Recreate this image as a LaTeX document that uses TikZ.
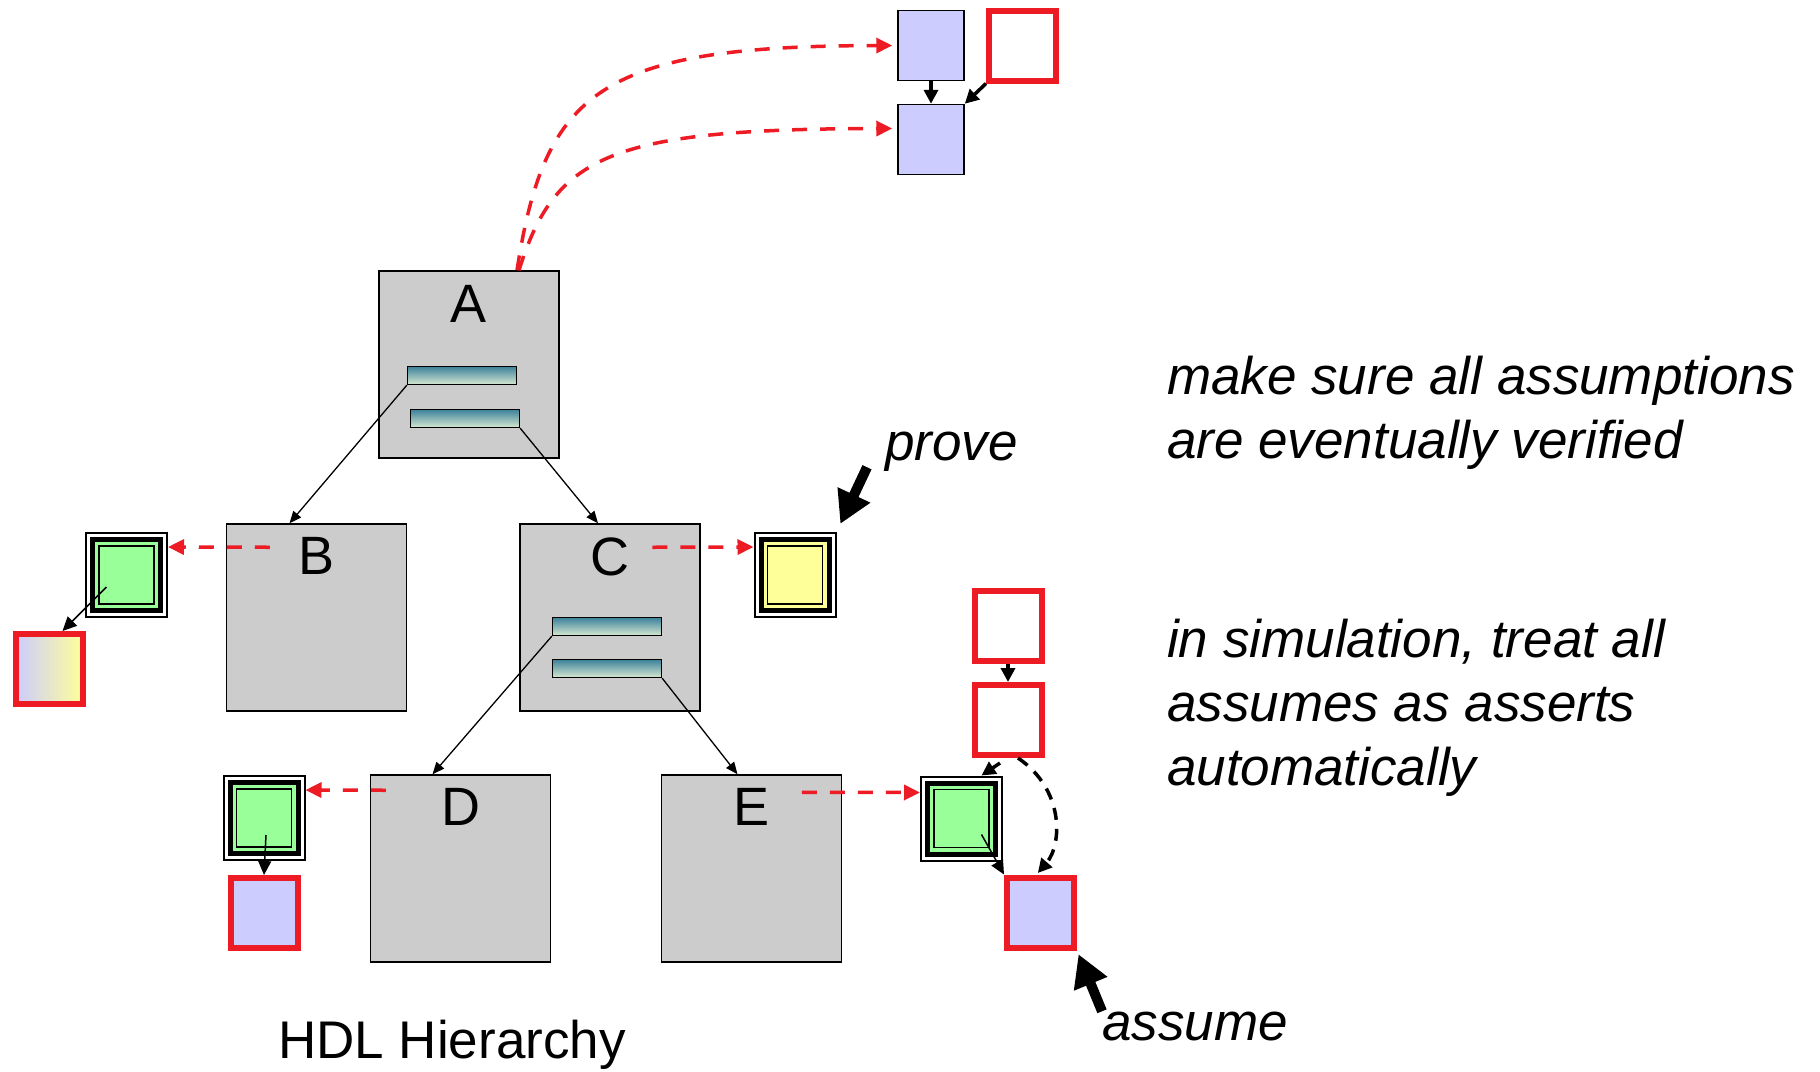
\documentclass[tikz,border=0pt]{standalone}
\usepackage{fontspec}
\setmainfont{Liberation Sans}
\usetikzlibrary{arrows.meta, positioning, calc}

\definecolor{hdlred}{HTML}{ED1C24}
\definecolor{modgray}{HTML}{CCCCCC}
\definecolor{lilac}{HTML}{CCCCFF}
\definecolor{propgreen}{HTML}{99FF99}
\definecolor{propyellow}{HTML}{FFFF99}
\definecolor{barteal}{HTML}{3D8199}
\definecolor{barpale}{HTML}{D6E8D2}

\begin{document}
\begin{tikzpicture}[x=1pt, y=-1pt,
        module/.style={draw, line width=1.5pt, fill=modgray, minimum width=180pt, minimum height=187pt, inner sep=0pt},
        modlabel/.style={inner sep=0pt, font=\fontsize{54}{60}\selectfont},
        instbar/.style={draw, line width=1.3pt, top color=barteal, bottom color=barpale, minimum width=109pt, minimum height=18pt, inner sep=0pt},
        propbox/.style={draw, line width=2pt, fill=white, minimum width=81pt, minimum height=84pt, inner sep=0pt,
            path picture={
                \fill[black] ([shift={(4pt,-4pt)}]path picture bounding box.north west) rectangle ([shift={(-4pt,4pt)}]path picture bounding box.south east);
                \fill[#1] ([shift={(9pt,-9pt)}]path picture bounding box.north west) rectangle ([shift={(-9pt,9pt)}]path picture bounding box.south east);
                \draw[line width=1.7pt, fill=#1] ([shift={(13pt,-13pt)}]path picture bounding box.north west) rectangle ([shift={(-13pt,13pt)}]path picture bounding box.south east);
            }},
        plainbox/.style={draw, line width=1.5pt, fill=lilac, minimum width=66pt, minimum height=70pt, inner sep=0pt},
        redbox/.style={draw=hdlred, line width=6pt, minimum width=67pt, minimum height=70pt, inner sep=0pt},
        note/.style={inner sep=0pt, align=left, font=\fontsize{53}{64}\selectfont\itshape},
        treeedge/.style={line width=1.3pt, -{Triangle[length=12pt,width=10pt]}},
        propedge/.style={hdlred, line width=3.5pt, dash pattern=on 15pt off 13pt, -{Triangle[length=16pt,width=15pt]}},
        linkedge/.style={line width=3.5pt, -{Triangle[length=14pt,width=14pt]}},
        thinedge/.style={line width=1.5pt, -{Triangle[length=14pt,width=13pt]}},
        bigarrow/.style={line width=10pt, -{Triangle[length=32pt,width=34pt]}}
    ]
        \useasboundingbox (0,0) rectangle (1820,1071);

        % HDL modules
        \node[module] (A) at (469,364.5) {};
        \node[module] (B) at (316.5,617.5) {};
        \node[module] (C) at (610,617.5) {};
        \node[module] (D) at (460.5,868.5) {};
        \node[module] (E) at (751.5,868.5) {};
        \node[modlabel, below=15pt of A.north] (Alab) {A};
        \node[modlabel, below=14pt of B.north] (Blab) {B};
        \node[modlabel, below=14pt of C.north] (Clab) {C};
        \node[modlabel, below=14pt of D.north] (Dlab) {D};
        \node[modlabel, below=14pt of E.north] (Elab) {E};

        % instances
        \node[instbar] (a1) at (462,375.5) {};
        \node[instbar] (a2) at (465,418.5) {};
        \node[instbar] (c1) at (607,626.5) {};
        \node[instbar] (c2) at (607,668.5) {};

        \draw[treeedge] (a1.south west) -- ($(B.north)+(-27,0)$);
        \draw[treeedge] (a2.south east) -- ($(C.north)+(-12,0)$);
        \draw[treeedge] (c1.south west) -- ($(D.north)+(-28,0)$);
        \draw[treeedge] (c2.south east) -- ($(E.north)+(-14,0)$);

        % properties
        \node[plainbox] (b1) at (931,45.5) {};
        \node[plainbox, below=22.5pt of b1] (b2) {};
        \node[redbox] (rT) at (1022.5,45.5) {};
        \node[propbox=propgreen] (gB) at (126.5,575) {};
        \node[redbox, left color=lilac, right color=propyellow] (gr) at (49.5,669) {};
        \node[propbox=propyellow] (yC) at (795,575) {};
        \node[propbox=propgreen] (gD) at (264,818) {};
        \node[redbox, fill=lilac, below=14pt of gD] (bD) {};
        \node[propbox=propgreen] (gE) at (961.5,818.5) {};
        \node[redbox] (r1) at (1008,626) {};
        \node[redbox, below=18pt of r1] (r2) {};
        \node[redbox, fill=lilac] (bE) at (1040.5,912.5) {};

        % bindings
        \draw[propedge, shorten >=5pt] ($(A.north)+(48,0)$) .. controls (545,90) and (600,46) .. (b1.west);
        \draw[propedge, shorten >=5pt] ($(A.north)+(50,0)$) .. controls (555,155) and (610,129) .. ($(b2.west)+(0,-11)$);
        \draw[propedge] ($(B.north west)+(44,24)$) -- ($(gB.north east)+(0,15)$);
        \draw[propedge] ($(C.north west)+(133,24)$) -- ($(yC.north west)+(0,15)$);
        \draw[propedge] ($(D.north west)+(16,16)$) -- ($(gD.north east)+(0,15)$);
        \draw[propedge] ($(E.north west)+(141,18)$) -- ($(gE.north west)+(0,17)$);

        \draw[linkedge] (b1) -- (b2);
        \draw[linkedge] (rT.south west) -- (b2.north east);
        \draw[linkedge] (r1) -- (r2);
        \draw[linkedge] ($(r2.south)+(-8,5)$) -- ($(gE.north)+(20,0)$);
        \draw[linkedge, dash pattern=on 12pt off 9pt, shorten >=2pt] ($(r2.south)+(10,0)$) .. controls (1065,790) and (1062,845) .. ($(bE.north)+(-4,0)$);
        \draw[thinedge] ($(gB.center)+(-20,12)$) -- ($(gr.north)+(13,0)$);
        \draw[thinedge] ($(gD.center)+(2,17)$) -- (bD.north);
        \draw[thinedge] ($(gE.center)+(20,16)$) -- (bE.north west);

        % texts
        \node[note, anchor=base west] (prove) at (885,460) {prove};
        \node[note, anchor=base west] (assume) at (1102,1040) {assume};
        \node[note, anchor=base west] (verify) at (1167,458) {make sure all assumptions\\are eventually verified};
        \node[note, anchor=base west] (simul) at (1167,785) {in simulation, treat all\\assumes as asserts\\automatically};
        \node[inner sep=0pt, anchor=base west, font=\fontsize{53}{64}\selectfont] (title) at (278,1058) {HDL Hierarchy};

        \draw[bigarrow, shorten >=9pt] ($(prove.west)+(-18,16)$) -- (yC.north east);
        \draw[bigarrow, shorten >=4pt] (assume.north west) -- (bE.south east);
    \end{tikzpicture}
\end{document}
